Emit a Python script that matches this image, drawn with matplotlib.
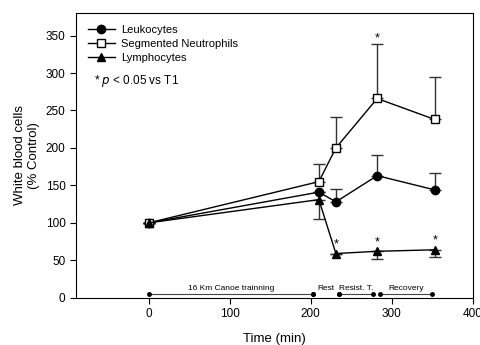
import matplotlib as mpl
mpl.use('Agg')
import matplotlib.pyplot as plt
import numpy as np

plt.rcParams['font.family'] = ['Liberation Sans', 'DejaVu Sans']

time = [0, 210, 231, 282, 353]

leuko = [100, 141, 128, 163, 144]
leuko_err = [0, 0, 17, 28, 22]

neutro = [100, 155, 200, 266, 238]
neutro_err = [0, 23, 41, 73, 57]

lympho = [100, 131, 59, 62, 64]
lympho_err = [0, 26, 0, 10, 9]

# significance stars: (x, y)
star_x = [282, 231, 282, 353]
star_y = [338, 63, 66, 68]

# phases under the curves
phase_names = ['16 Km Canoe trainning', 'Rest', 'Resist. T.', 'Recovery']
phase_start = [0, 203, 235, 285]
phase_end = [203, 235, 277, 350]

fig = plt.figure(figsize=(4.8, 3.45), dpi=100)
ax = fig.add_axes([0.158, 0.137, 0.827, 0.825])

ec = '#333333'
ax.errorbar(time, neutro, yerr=[np.zeros(5), neutro_err], fmt='none', ecolor=ec,
            elinewidth=1, capsize=4, capthick=1, zorder=1)
ax.errorbar(time, leuko, yerr=[np.zeros(5), leuko_err], fmt='none', ecolor=ec,
            elinewidth=1, capsize=4, capthick=1, zorder=1)
ax.errorbar(time, lympho, yerr=[lympho_err, np.zeros(5)], fmt='none', ecolor=ec,
            elinewidth=1, capsize=4, capthick=1, zorder=1)

ax.plot(time, leuko, '-o', color='k', lw=1, ms=6, label='Leukocytes', zorder=3)
ax.plot(time, neutro, '-s', color='k', lw=1, ms=5.5, mfc='white', mec='k',
        label='Segmented Neutrophils', zorder=3)
ax.plot(time, lympho, '-^', color='k', lw=1, ms=6, label='Lymphocytes', zorder=3)

for x, y in zip(star_x, star_y):
    ax.text(x, y, '*', ha='center', va='bottom', fontsize=9)

# phase bars
bar_y = 5
for i, (name, s, e) in enumerate(zip(phase_names, phase_start, phase_end)):
    if name != 'Rest':
        ax.plot([s, e], [bar_y, bar_y], '-', color='#444444', lw=0.8)
    ax.plot([s, e], [bar_y, bar_y], 'o', color='k', ms=2.5, ls='none')
    ax.text((s + e) / 2, bar_y + 3, name, ha='center', va='bottom', fontsize=6)

ax.set_xlim(-90, 400)
ax.set_ylim(0, 380)
ax.set_xticks([0, 100, 200, 300, 400])
ax.set_yticks([0, 50, 100, 150, 200, 250, 300, 350])
ax.tick_params(direction='out', labelsize=8.5, length=4)

ax.set_xlabel('Time (min)', fontsize=9.5, labelpad=9)
ax.set_ylabel('White blood cells\n(% Control)', fontsize=9.5, labelpad=4)

leg = ax.legend(loc='upper left', fontsize=8, frameon=False, handlelength=2.4,
                borderaxespad=0.7, labelspacing=0.35, handletextpad=0.6)
ax.text(-68, 289, r'* $p$ < 0.05 vs T1', fontsize=8.5, va='center')

fig.savefig('out.png')
